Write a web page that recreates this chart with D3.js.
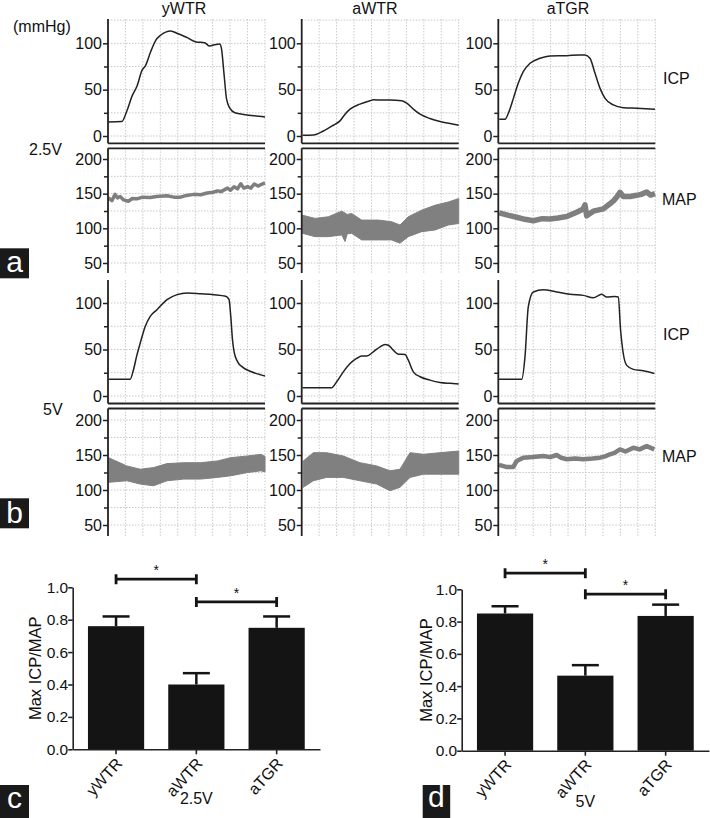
<!DOCTYPE html>
<html>
<head>
<meta charset="utf-8">
<script src="https://cdn.jsdelivr.net/npm/d3@7"></script>
<style>
    body { margin: 0; background: #fff; }
    text { font-family: "Liberation Sans", Arial, sans-serif; fill: #111; }
</style>
</head>
<body>
<script>
/* groups shown in every panel */
var groups = ["yWTR", "aWTR", "aTGR"];

/* ICP traces, [time % of window, mmHg] */
var icpA_yWTR = [[0,15.2],[8.8,15.6],[12,27],[15.3,43],[18.5,54],[21.7,71],[23.9,76],[27.1,90.6],[30.3,103],[33.5,108.7],[40,113.4],[44.3,110.5],[50.8,105.8],[56.1,101.4],[61.5,100.7],[64.7,97],[67.9,98.5],[71.2,99.3],[72.3,94],[74,65],[75.5,40],[77.6,30],[80.8,25],[87.3,23],[98,21],[100,20.5]];
var icpA_aWTR = [[0.6,0.7],[7.4,1],[13.8,5.4],[20.1,11.6],[24.4,16.3],[27.6,23.5],[30.8,29],[37.1,34.4],[43.5,38],[45.6,39],[52,38.8],[56.2,38.8],[63.7,38],[66.9,35.5],[71.1,29],[75.4,23.5],[81.7,18.8],[88.1,15.6],[94.5,13.4],[100,11.6]];
var icpA_aTGR = [[0.6,18],[4.3,18],[6.4,24.5],[9.6,40.6],[12.7,56.8],[15.9,69.4],[20.2,78.4],[26.6,83.8],[32.9,86.3],[43.6,86.7],[52,87.4],[55.2,87.4],[58.4,83.8],[61.6,67.6],[64.8,51.4],[68,40.6],[73.3,33.5],[79.6,30.6],[88.2,29.9],[99.8,28.8]];
var icpB_yWTR = [[0.5,18],[14.1,18],[16.2,28],[18.4,44],[20.5,56.8],[23.7,74.8],[26.9,85.6],[31.2,92.8],[37.6,103.6],[44,109],[50.4,110.8],[59,110],[67.5,109],[75,107.2],[77.1,103.6],[78.2,85.6],[79.3,60.4],[80.3,47.8],[82.5,37],[85.7,31],[91,26.3],[97.4,22.7],[100,21.5]];
var icpB_aWTR = [[0.5,8.9],[19.1,8.9],[22.3,15.4],[26.5,26],[30.8,35],[35,40.4],[38.2,42.9],[41.4,42.9],[45.6,47.5],[49.9,52.9],[53.1,55.4],[55.2,54.6],[58.3,49.3],[61.5,45],[65.8,44.6],[67.9,38.6],[71.1,26],[75.4,20.7],[81.7,17.1],[88.1,14.6],[94.5,13.6],[100,12.9]];
var icpB_aTGR = [[0.5,17.9],[14.9,17.9],[17,42],[19.1,95.7],[22.3,111.8],[28.7,114.3],[37.2,111.8],[45.7,109.3],[54.1,108.2],[60.5,105.7],[65.8,109.3],[69,106.4],[74.3,107.1],[76.4,106.4],[77.9,70.7],[79.6,45.7],[81.7,33.2],[86,28.6],[92.4,27.1],[99.4,24.3]];

/* MAP traces: thin ones as [time, mmHg], noisy ones as [time, low, high] */
var mapA_yWTR = [[0.2,144],[2.5,140],[4.5,149],[6,144],[7.7,146],[10,141],[13,139],[15.5,143],[18.4,142.5],[22,145],[26.9,144.5],[31,146],[37.6,147],[42,145],[46.2,145],[50,147.5],[54.7,149],[59,148.5],[63.2,151],[67,152],[69.7,154],[72,153],[76.1,158],[78,155],[80.3,160],[82.5,157],[84.6,164.3],[86.5,158],[88.9,160],[91,158],[93.2,164],[95.5,161],[97.4,163],[100,165.5]];
var mapA_aWTR = [[0.4,92.9,119],[8.5,88,114.3],[17,88,116.7],[25.5,90.5,124.8],[27.6,81,122],[29,92,120],[31.8,92.9,121.4],[38.2,83.3,111.9],[48.8,83.3,111.9],[57.3,83.3,109.5],[62.6,78.6,104.8],[67.9,88,116.7],[76.4,95.2,126.2],[84.9,97.6,133.3],[93.4,104.8,138],[100,107,142.9]];
var mapA_aTGR = [[0.6,122.3],[6,119],[11.7,116],[17,113],[22.3,111],[28,114],[32.9,113.6],[38,115],[43.6,117],[49.9,123.3],[54.1,128],[55.2,134],[56.3,118],[60.5,124.8],[66.9,128],[71.1,135.4],[73.5,140],[75.4,145],[77.5,152],[79.6,146],[84,146],[88.1,147.6],[91,149],[94.5,152.4],[97,148],[99.8,150]];
var mapB_yWTR = [[0.5,111,146],[12,113.2,134.4],[20.5,108.5,129.7],[29,106,132],[37.6,113.2,137.7],[48.3,115.6,139],[59,115.6,139],[69.7,118,141.5],[78.2,120.3,146.2],[88.9,125,148.6],[97.4,127.4,151],[100,126,148]];
var mapB_aWTR = [[1,103.8,141.5],[7.4,113.2,153.3],[15.9,118,153.3],[26.5,118,148.6],[37.1,113.2,139],[47.8,108.5,134.4],[56.2,99,127.4],[62.6,103.8,129.7],[69,118,153.3],[77.5,122.6,151],[88.1,122.6,153.3],[100,122.6,155.7]];
var mapB_aTGR = [[0.5,135.8],[5,133],[9.6,133],[11.7,141.5],[15.9,146.2],[22,147],[28.7,148.6],[33,147],[37.2,150],[40,146],[43.6,143.9],[49,145],[54.1,143.9],[60,145],[64.8,146.2],[68,148],[71.1,151],[74,153],[77.5,158],[81,155],[86,160.4],[90,158],[94.5,162.7],[99.4,158]];

/* Max ICP/MAP bar data */
var ratio25 = [0.76, 0.40, 0.75];
var sem25 = [0.06, 0.07, 0.07];
var ratio5 = [0.85, 0.465, 0.835];
var sem5 = [0.045, 0.065, 0.07];
var sig25 = [["yWTR", "aWTR", 1.05], ["aWTR", "aTGR", 0.91]];
var sig5 = [["yWTR", "aWTR", 1.10], ["aWTR", "aTGR", 0.97]];

var svg = d3.select("body").append("svg")
    .attr("width", 710)
    .attr("height", 818);

/* layout of the trace grid */
var colX = [108, 301.7, 498.3];
var colW = 157;
var rows = [
    { kind: "icp", top: 19, bottom: 143.3, y0: 136, y1: 43.3, ticks: [0, 50, 100], minor: [25, 75], grid: [0, 25, 50, 75, 100, 125], data: [icpA_yWTR, icpA_aWTR, icpA_aTGR] },
    { kind: "map", top: 148.3, bottom: 273, y0: 263, y1: 159, ticks: [50, 100, 150, 200], minor: [75, 125, 175], grid: [50, 75, 100, 125, 150, 175, 200], data: [mapA_yWTR, mapA_aWTR, mapA_aTGR], widths: [3.5, 0, 5.5] },
    { kind: "icp", top: 280, bottom: 403.5, y0: 396, y1: 303, ticks: [0, 50, 100], minor: [25, 75], grid: [0, 25, 50, 75, 100], data: [icpB_yWTR, icpB_aWTR, icpB_aTGR] },
    { kind: "map", top: 408.5, bottom: 536, y0: 525, y1: 420, ticks: [50, 100, 150, 200], minor: [75, 125, 175], grid: [50, 75, 100, 125, 150, 175, 200], data: [mapB_yWTR, mapB_aWTR, mapB_aTGR], widths: [0, 0, 4.5] }
];

rows.forEach(function(r) {
    var lo = r.kind == "icp" ? 0 : 50, hi = r.kind == "icp" ? 100 : 200;
    var y = d3.scaleLinear().domain([lo, hi]).range([r.y0, r.y1]);

    colX.forEach(function(cx, c) {
        var x = d3.scaleLinear().domain([0, 100]).range([cx, cx + colW]);
        var g = svg.append("g");

        // dotted grid
        g.selectAll(".vgrid")
            .data(d3.range(10).map(function(i) { return i * 100 / 9; }))
            .enter().append("line")
            .attr("x1", function(d) { return x(d); })
            .attr("x2", function(d) { return x(d); })
            .attr("y1", r.top)
            .attr("y2", r.bottom)
            .attr("stroke", "#c9c9c9")
            .attr("stroke-width", 1)
            .attr("stroke-dasharray", "1.5,1.5");
        g.selectAll(".hgrid")
            .data(r.grid)
            .enter().append("line")
            .attr("x1", cx)
            .attr("x2", cx + colW)
            .attr("y1", function(d) { return y(d); })
            .attr("y2", function(d) { return y(d); })
            .attr("stroke", "#c9c9c9")
            .attr("stroke-width", 1)
            .attr("stroke-dasharray", "1.5,1.5");

        // trace
        var d = r.data[c];
        if (r.kind == "icp") {
            g.append("path")
                .datum(d)
                .attr("fill", "none")
                .attr("stroke", "#222")
                .attr("stroke-width", 1.5)
                .attr("stroke-linejoin", "round")
                .attr("d", d3.line().curve(d3.curveMonotoneX)
                    .x(function(p) { return x(p[0]); })
                    .y(function(p) { return y(p[1]); }));
        } else if (d[0].length == 3) {
            g.append("path")
                .datum(d)
                .attr("fill", "#808080")
                .attr("stroke", "#808080")
                .attr("stroke-width", 1)
                .attr("d", d3.area().x(function(p) { return x(p[0]); })
                    .y0(function(p) { return y(p[1]); })
                    .y1(function(p) { return y(p[2]); }));
        } else {
            g.append("path")
                .datum(d)
                .attr("fill", "none")
                .attr("stroke", "#7f7f7f")
                .attr("stroke-width", r.widths[c])
                .attr("stroke-linejoin", "round")
                .attr("d", d3.line().x(function(p) { return x(p[0]); }).y(function(p) { return y(p[1]); }));
        }

        // y axis, major + minor ticks
        var ax = g.append("g")
            .attr("transform", "translate(" + cx + ",0)")
            .call(d3.axisLeft(y).tickValues(r.ticks).tickSize(5).tickPadding(1));
        ax.select(".domain").remove();
        ax.selectAll("text").style("font-size", "16px").attr("fill", "#111");
        var mx = g.append("g")
            .attr("transform", "translate(" + cx + ",0)")
            .call(d3.axisLeft(y).tickValues(r.minor).tickSize(4).tickFormat(""));
        mx.select(".domain").remove();
        g.selectAll(".tick line").attr("stroke", "#222").attr("stroke-width", 1.5);
        g.append("line")
            .attr("x1", cx).attr("x2", cx)
            .attr("y1", r.top).attr("y2", r.bottom)
            .attr("stroke", "#222").attr("stroke-width", 1.8);

        // double separator line
        g.append("line")
            .attr("x1", cx).attr("x2", cx + colW)
            .attr("y1", r.kind == "icp" ? r.bottom : r.top)
            .attr("y2", r.kind == "icp" ? r.bottom : r.top)
            .attr("stroke", "#222").attr("stroke-width", 1.8);
    });
});

/* titles and side labels */
var titleX = [184, 375, 568];
svg.selectAll(".title")
    .data(groups)
    .enter().append("text")
    .attr("x", function(d, i) { return titleX[i]; })
    .attr("y", 13.5)
    .attr("text-anchor", "middle")
    .style("font-size", "16px")
    .text(function(d) { return d; });

var labels = [["(mmHg)", 13, 31.5], ["2.5V", 29, 155], ["5V", 43, 415], ["ICP", 663, 83.5], ["MAP", 662, 205], ["ICP", 663, 340], ["MAP", 662, 461.5]];
svg.selectAll(".side")
    .data(labels)
    .enter().append("text")
    .attr("x", function(d) { return d[1]; })
    .attr("y", function(d) { return d[2]; })
    .style("font-size", "16px")
    .text(function(d) { return d[0]; });

/* panel letters */
var letters = [["a", 0, 248.3, 29, 30, 271.5], ["b", 0, 498.3, 29, 30, 523], ["c", 0, 785, 29, 33, 808], ["d", 422.7, 785, 27.5, 33, 806.5]];
letters.forEach(function(l) {
    svg.append("rect")
        .attr("x", l[1]).attr("y", l[2])
        .attr("width", l[3]).attr("height", l[4])
        .attr("fill", "#1a1a1a");
    svg.append("text")
        .attr("x", l[1] + l[3] / 2)
        .attr("y", l[5])
        .attr("text-anchor", "middle")
        .style("font-size", "30px")
        .style("fill", "#fff")
        .text(l[0]);
});

/* bar charts of max ICP/MAP */
var barChart = function(spec) {
    var x = d3.scaleBand()
        .domain(groups)
        .range([spec.left, spec.right])
        .paddingInner(0.3)
        .paddingOuter(0.19);
    var y = d3.scaleLinear()
        .domain([0, 1])
        .range([spec.zero, spec.one]);
    var g = svg.append("g");

    g.selectAll(".bar")
        .data(spec.values)
        .enter().append("rect")
        .attr("x", function(d, i) { return x(groups[i]); })
        .attr("width", x.bandwidth())
        .attr("y", function(d) { return y(d); })
        .attr("height", function(d) { return y(0) - y(d); })
        .attr("fill", "#141414");

    // error bars (upper only)
    spec.values.forEach(function(v, i) {
        var cx = x(groups[i]) + x.bandwidth() / 2;
        g.append("line")
            .attr("x1", cx).attr("x2", cx)
            .attr("y1", y(v)).attr("y2", y(v + spec.sem[i]))
            .attr("stroke", "#141414").attr("stroke-width", 2.5);
        g.append("line")
            .attr("x1", cx - 13.5).attr("x2", cx + 13.5)
            .attr("y1", y(v + spec.sem[i])).attr("y2", y(v + spec.sem[i]))
            .attr("stroke", "#141414").attr("stroke-width", 2.5);
    });

    // significance brackets
    spec.sig.forEach(function(s) {
        var xa = x(s[0]) + x.bandwidth() / 2, xb = x(s[1]) + x.bandwidth() / 2, yy = y(s[2]);
        g.append("path")
            .attr("d", "M" + xa + "," + (yy - 5) + "V" + (yy + 5) + "M" + xa + "," + yy + "H" + xb + "M" + xb + "," + (yy - 5) + "V" + (yy + 5))
            .attr("fill", "none")
            .attr("stroke", "#141414")
            .attr("stroke-width", 2.8);
        g.append("text")
            .attr("x", (xa + xb) / 2)
            .attr("y", yy - 4)
            .attr("text-anchor", "middle")
            .style("font-size", "14px")
            .text("*");
    });

    var ya = g.append("g")
        .attr("transform", "translate(" + spec.left + ",0)")
        .call(d3.axisLeft(y).tickValues([0, 0.2, 0.4, 0.6, 0.8, 1.0]).tickFormat(d3.format(".1f")).tickSize(4.5).tickSizeOuter(0).tickPadding(0));
    ya.selectAll("text").style("font-size", "15.5px").attr("fill", "#111");

    var xa = g.append("g")
        .attr("transform", "translate(0," + spec.zero + ")")
        .call(d3.axisBottom(x).tickSize(5).tickSizeOuter(0));
    xa.selectAll("text")
        .style("font-size", "16px")
        .style("text-anchor", "end")
        .attr("fill", "#111")
        .attr("y", 0)
        .attr("dy", ".35em")
        .attr("transform", "translate(3,11) rotate(-48)");
    g.selectAll(".domain, .tick line").attr("stroke", "#222").attr("stroke-width", 1.6);

    g.append("text")
        .attr("transform", "translate(" + spec.ylabX + "," + ((spec.zero + spec.one) / 2) + ") rotate(-90)")
        .attr("text-anchor", "middle")
        .style("font-size", "16.5px")
        .text("Max ICP/MAP");

    g.append("text")
        .attr("x", (spec.left + spec.right) / 2)
        .attr("y", spec.xlabY)
        .attr("text-anchor", "middle")
        .style("font-size", "16px")
        .text(spec.xlabel);
};

barChart({ left: 72.7, right: 320, zero: 749.3, one: 587.3, values: ratio25, sem: sem25, sig: sig25, ylabX: 41, xlabel: "2.5V", xlabY: 803.5 });
barChart({ left: 461.7, right: 709, zero: 750.7, one: 589.3, values: ratio5, sem: sem5, sig: sig5, ylabX: 432, xlabel: "5V", xlabY: 806.5 });
</script>
</body>
</html>
